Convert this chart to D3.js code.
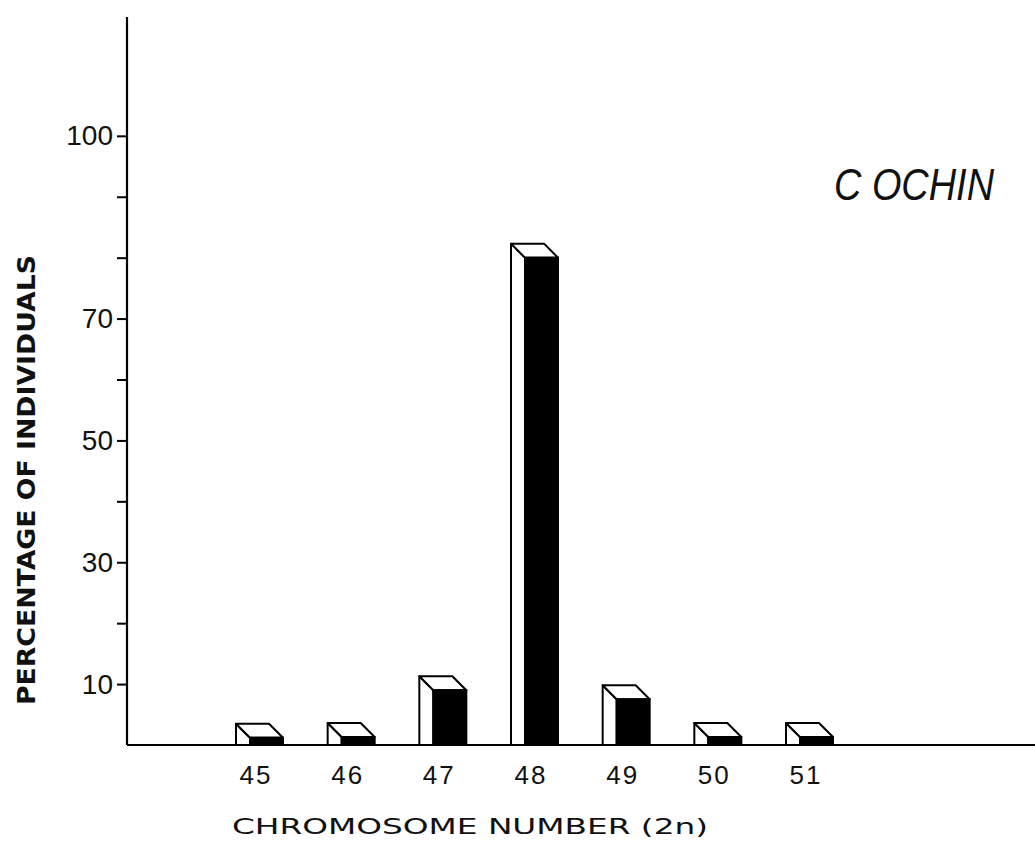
<!DOCTYPE html>
<html>
<head>
<meta charset="utf-8">
<script src="https://cdn.jsdelivr.net/npm/d3@7"></script>
<style>
  body { margin: 0; background: #fff; }
  svg { display: block; }
</style>
</head>
<body>
<script>
// chromosome numbers (2n) and the percentage of individuals for each
const chromosomes = ["45", "46", "47", "48", "49", "50", "51"];
const percentages = [1.2, 1.3, 9.0, 80.0, 7.5, 1.3, 1.3];
// y axis: ticks every 10, but only some of them carry a number
const tickValues = [10, 20, 30, 40, 50, 60, 70, 80, 90, 100];
const tickLabels = [10, 30, 50, 70, 100];

const width = 1035;
const height = 859;

const svg = d3.select("body").append("svg")
  .attr("width", width)
  .attr("height", height);

// --- scales ---
const y = d3.scaleLinear().domain([0, 120]).range([745, 14]);
// front (black) face of each bar sits in the band
const x = d3.scaleBand()
  .domain(chromosomes)
  .range([250, 833])
  .paddingInner(0.64)
  .paddingOuter(0);

const axisX = 127;
const depthX = 14; // the white side face, drawn to the left
const depthY = 14;

// --- y axis ---
const yAxis = d3.axisLeft(y)
  .tickValues(tickValues)
  .tickSize(10)
  .tickPadding(4)
  .tickFormat(d => tickLabels.includes(d) ? d : "");

const gy = svg.append("g")
  .attr("transform", `translate(${axisX},0)`)
  .call(yAxis);
gy.select(".domain").remove();
gy.selectAll(".tick line").attr("stroke", "#000").attr("stroke-width", 2);
gy.selectAll(".tick text")
  .attr("font-family", "'Liberation Sans', Arial, sans-serif")
  .attr("font-size", 28)
  .attr("fill", "#111");

// axis lines
svg.append("line")
  .attr("x1", axisX).attr("x2", axisX)
  .attr("y1", y(119.5)).attr("y2", y(0))
  .attr("stroke", "#000").attr("stroke-width", 2.2);
svg.append("line")
  .attr("x1", axisX).attr("x2", width)
  .attr("y1", y(0)).attr("y2", y(0))
  .attr("stroke", "#000").attr("stroke-width", 2.2);

// --- bars (pseudo 3D: white side, white top, black front) ---
const bars = svg.append("g")
  .selectAll("g")
  .data(chromosomes.map((c, i) => ({ c, v: percentages[i] })))
  .join("g");

bars.append("path") // side face
  .attr("d", d => {
    const x0 = x(d.c), t = y(d.v), b = y(0);
    return `M${x0},${b} L${x0 - depthX},${b} L${x0 - depthX},${t - depthY} L${x0},${t} Z`;
  })
  .attr("fill", "#fff")
  .attr("stroke", "#000")
  .attr("stroke-width", 2)
  .attr("stroke-linejoin", "round");

bars.append("path") // top face
  .attr("d", d => {
    const x0 = x(d.c), x1 = x0 + x.bandwidth(), t = y(d.v);
    return `M${x0},${t} L${x0 - depthX},${t - depthY} L${x1 - depthX},${t - depthY} L${x1},${t} Z`;
  })
  .attr("fill", "#fff")
  .attr("stroke", "#000")
  .attr("stroke-width", 2)
  .attr("stroke-linejoin", "round");

bars.append("rect") // front face
  .attr("x", d => x(d.c))
  .attr("y", d => y(d.v))
  .attr("width", x.bandwidth())
  .attr("height", d => y(0) - y(d.v))
  .attr("fill", "#000")
  .attr("stroke", "#000")
  .attr("stroke-width", 2);

// --- x labels ---
svg.append("g")
  .selectAll("text")
  .data(chromosomes)
  .join("text")
  .attr("x", d => x(d) + 6)
  .attr("y", 784)
  .attr("text-anchor", "middle")
  .attr("font-family", "'Liberation Sans', Arial, sans-serif")
  .attr("font-size", 26)
  .attr("letter-spacing", 2)
  .attr("fill", "#111")
  .text(d => d);

// --- titles ---
svg.append("text")
  .attr("transform", "translate(35,480) rotate(-90)")
  .attr("text-anchor", "middle")
  .attr("font-family", "'DejaVu Sans', sans-serif")
  .attr("font-weight", "bold")
  .attr("font-size", 25)
  .attr("textLength", 450)
  .attr("lengthAdjust", "spacingAndGlyphs")
  .attr("fill", "#111")
  .text("PERCENTAGE OF INDIVIDUALS");

svg.append("text")
  .attr("x", 232)
  .attr("y", 834)
  .attr("font-family", "'DejaVu Sans', sans-serif")
  .attr("font-size", 22)
  .attr("textLength", 476)
  .attr("lengthAdjust", "spacingAndGlyphs")
  .attr("fill", "#111")
  .text("CHROMOSOME NUMBER (2n)");

svg.append("text")
  .attr("x", 834)
  .attr("y", 200)
  .attr("font-family", "'Liberation Sans', Arial, sans-serif")
  .attr("font-style", "italic")
  .attr("font-size", 44)
  .attr("textLength", 160)
  .attr("lengthAdjust", "spacingAndGlyphs")
  .attr("fill", "#111")
  .text("C OCHIN");
</script>
</body>
</html>
